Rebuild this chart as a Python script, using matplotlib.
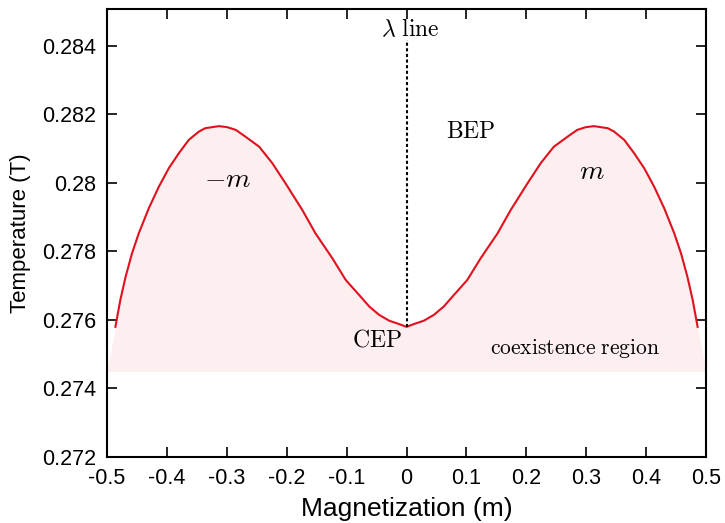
import numpy as np
import matplotlib.pyplot as plt

# Lectura aproximada de la curva (mitad derecha, m >= 0)
m_half = [0.0, 0.0122, 0.029, 0.0457, 0.062, 0.0791, 0.1015, 0.1237, 0.152,
          0.1739, 0.202, 0.2241, 0.246, 0.2687, 0.285, 0.2993, 0.313, 0.336,
          0.3467, 0.3634, 0.380, 0.3969, 0.4135, 0.4303, 0.447, 0.4582,
          0.469, 0.4778, 0.486]
T_half = [0.27580, 0.27588, 0.27598, 0.27615, 0.27639, 0.27673, 0.27717,
          0.27780, 0.27853, 0.27921, 0.27999, 0.28058, 0.28106, 0.28135,
          0.28155, 0.28163, 0.28166, 0.28160, 0.28150, 0.28126, 0.28087,
          0.28043, 0.27989, 0.27926, 0.27853, 0.27795, 0.27726, 0.27658,
          0.27580]

# Curva completa simétrica
m = [-v for v in m_half[::-1]] + m_half[1:]
T = T_half[::-1] + T_half[1:]

T_base = 0.2745          # borde inferior de la región de coexistencia
lambda_top = 0.28418     # extremo superior de la línea lambda

xticks = [-0.5, -0.4, -0.3, -0.2, -0.1, 0, 0.1, 0.2, 0.3, 0.4, 0.5]
xlabels = ['-0.5', '-0.4', '-0.3', '-0.2', '-0.1', '0', '0.1', '0.2', '0.3', '0.4', '0.5']
yticks = [0.272, 0.274, 0.276, 0.278, 0.280, 0.282, 0.284]
ylabels = ['0.272', '0.274', '0.276', '0.278', '0.28', '0.282', '0.284']

plt.rcParams['font.family'] = ['Liberation Sans', 'DejaVu Sans']
plt.rcParams['mathtext.fontset'] = 'cm'

fig = plt.figure(figsize=(7.25, 5.23), dpi=100)
ax = fig.add_axes([0.1476, 0.1262, 0.8262, 0.8566])

# Región sombreada bajo la curva
xf = [-0.5] + m + [0.5]
yf = [T_base] + T + [T_base]
ax.fill_between(xf, yf, T_base, color='#fdefef', linewidth=0)

ax.plot(m, T, color='#e0101e', linewidth=1.5)
ax.plot([0, 0], [T_half[0], lambda_top], color='black', linestyle=(0, (1.5, 1.2)),
        linewidth=1.5)

ax.text(0.007, 0.28447, r'$\lambda\ \mathrm{line}$', fontsize=17, ha='center', va='center')
ax.text(0.107, 0.28149, r'$\mathrm{BEP}$', fontsize=17, ha='center', va='center')
ax.text(-0.05, 0.27539, r'$\mathrm{CEP}$', fontsize=17, ha='center', va='center')
ax.text(0.281, 0.27518, r'$\mathrm{coexistence\ region}$', fontsize=15.5,
        ha='center', va='center')
ax.text(-0.298, 0.2801, r'$-m$', fontsize=20, ha='center', va='center')
ax.text(0.309, 0.28032, r'$m$', fontsize=20, ha='center', va='center')

ax.set_xlim(-0.5, 0.5)
ax.set_ylim(0.272, 0.28508)
ax.set_xticks(xticks)
ax.set_xticklabels(xlabels)
ax.set_yticks(yticks)
ax.set_yticklabels(ylabels)
ax.tick_params(direction='in', length=7, width=1.2, top=True, right=True,
               labelsize=15.5, pad=8)
for s in ax.spines.values():
    s.set_linewidth(1.5)

ax.set_xlabel('Magnetization (m)', fontsize=19, labelpad=6)
ax.set_ylabel('Temperature (T)', fontsize=16, labelpad=8)

fig.savefig('out.png', dpi=100)
